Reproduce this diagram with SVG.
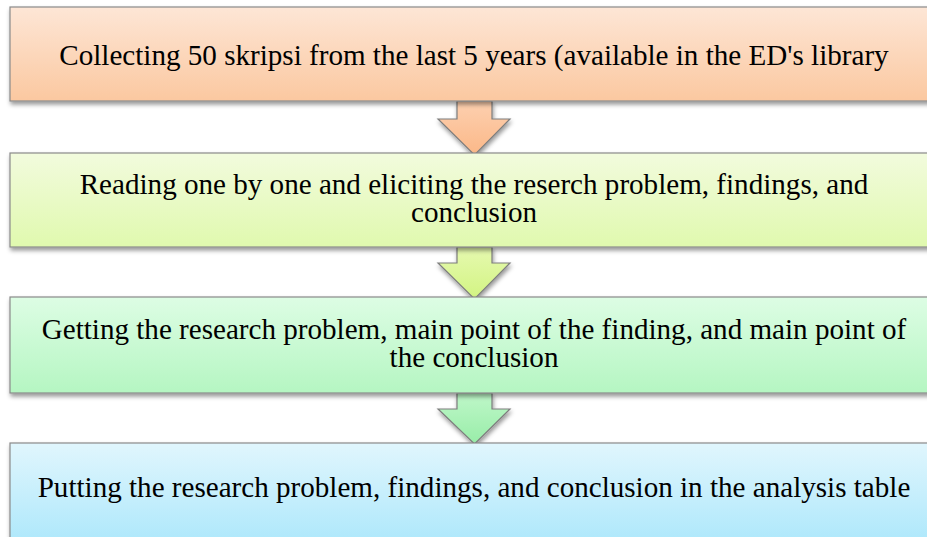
<svg xmlns="http://www.w3.org/2000/svg" width="927" height="537" viewBox="0 0 927 537">
<style>
.box{stroke:#8a8a8a;stroke-width:1.2}
.arr{stroke:#7d7d7d;stroke-width:1.2}
text{font-size:29.1px;fill:#000;text-anchor:middle}
</style>
<defs>
<filter id="sh" x="-5%" y="-20%" width="115%" height="150%">
<feDropShadow dx="1" dy="3" stdDeviation="2" flood-color="#000" flood-opacity="0.4"/>
</filter>
<linearGradient id="g1" x1="0" y1="0" x2="0" y2="1"><stop offset="0" stop-color="#fde6d6"/><stop offset="1" stop-color="#fbc8a0"/></linearGradient>
<linearGradient id="g2" x1="0" y1="0" x2="0" y2="1"><stop offset="0" stop-color="#f2fbdd"/><stop offset="1" stop-color="#e0f9ae"/></linearGradient>
<linearGradient id="g3" x1="0" y1="0" x2="0" y2="1"><stop offset="0" stop-color="#ddfde4"/><stop offset="1" stop-color="#b5f6c2"/></linearGradient>
<linearGradient id="g4" x1="0" y1="0" x2="0" y2="1"><stop offset="0" stop-color="#e0f6fd"/><stop offset="1" stop-color="#a4e5fb"/></linearGradient>
<linearGradient id="a1" x1="0" y1="0" x2="0" y2="1"><stop offset="0" stop-color="#fdd0b0"/><stop offset="1" stop-color="#fbb888"/></linearGradient>
<linearGradient id="a2" x1="0" y1="0" x2="0" y2="1"><stop offset="0" stop-color="#e6f9b0"/><stop offset="1" stop-color="#d2f482"/></linearGradient>
<linearGradient id="a3" x1="0" y1="0" x2="0" y2="1"><stop offset="0" stop-color="#bff7c9"/><stop offset="1" stop-color="#98eda8"/></linearGradient>
</defs>
<g id="connectors">
<path class="arr" filter="url(#sh)" fill="url(#a1)" d="M457,101 H492 V119 H510 L474.5,155 L438,119 H457 Z"/>
<path class="arr" filter="url(#sh)" fill="url(#a2)" d="M457,247 H492 V263 H510 L474.5,299 L438,263 H457 Z"/>
<path class="arr" filter="url(#sh)" fill="url(#a3)" d="M457,393 H492 V409 H510 L474.5,444 L438,409 H457 Z"/>
</g>
<g id="node1" font-family="Liberation Serif, serif">
<rect class="box" filter="url(#sh)" x="10" y="7" width="940" height="94" fill="url(#g1)"/>
<text x="474" y="65">Collecting 50 skripsi from the last 5 years (available in the ED's library</text>
</g>
<g id="node2" font-family="Liberation Serif, serif">
<rect class="box" filter="url(#sh)" x="10" y="153" width="940" height="94" fill="url(#g2)"/>
<text x="474" y="194">Reading one by one and eliciting the reserch problem, findings, and</text>
<text x="474" y="222">conclusion</text>
</g>
<g id="node3" font-family="Liberation Serif, serif">
<rect class="box" filter="url(#sh)" x="10" y="297" width="940" height="96" fill="url(#g3)"/>
<text x="474" y="339">Getting the research problem, main point of the finding, and main point of</text>
<text x="474" y="367">the conclusion</text>
</g>
<g id="node4" font-family="Liberation Serif, serif">
<rect class="box" filter="url(#sh)" x="10" y="443" width="940" height="120" fill="url(#g4)"/>
<text x="474" y="497">Putting the research problem, findings, and conclusion in the analysis table</text>
</g>
</svg>
